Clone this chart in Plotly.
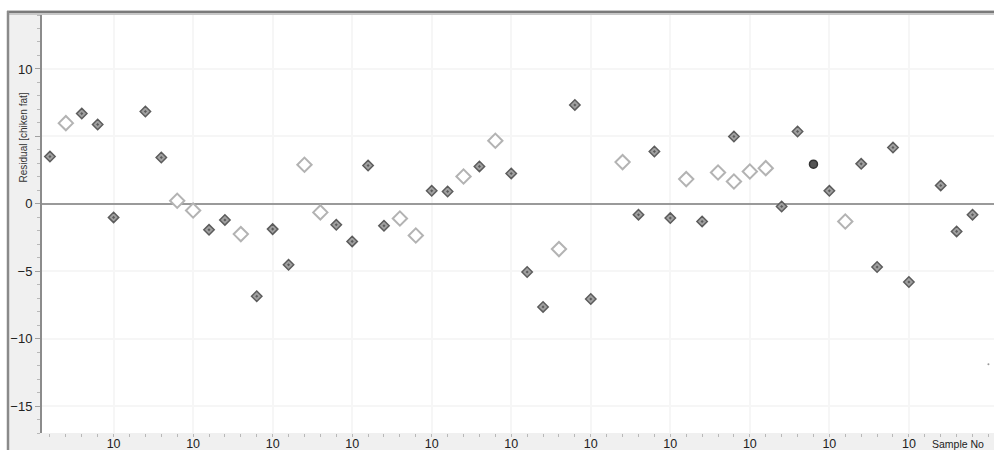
import plotly.graph_objects as go

# ---- data ----
filled_x = [1, 3, 4, 5, 7, 8, 11, 12, 14, 15, 16, 19, 20, 21, 22, 25, 26, 28, 30, 31, 32, 34, 35,
            38, 39, 40, 42, 44, 47, 48, 50, 52, 53, 54, 55, 57, 58, 59]
filled_y = [3.5, 6.69, 5.88, -1.01, 6.84, 3.43, -1.93, -1.2, -6.86, -1.88, -4.52, -1.56, -2.79, 2.84,
            -1.63, 0.96, 0.91, 2.77, 2.25, -5.06, -7.65, 7.33, -7.06,
            -0.81, 3.88, -1.06, -1.31, 4.99, -0.2, 5.36, 0.96, 2.96, -4.69, 4.17, -5.8, 1.36, -2.05, -0.81]
open_x = [2, 9, 10, 13, 17, 18, 23, 24, 27, 29, 33, 37, 41, 43, 44, 45, 46, 51]
open_y = [5.98, 0.22, -0.5, -2.25, 2.89, -0.64, -1.09, -2.35, 2.02, 4.67, -3.36, 3.09, 1.83, 2.32,
          1.65, 2.39, 2.64, -1.31]
dark_x = [49]
dark_y = [2.94]
speck_x = [60]
speck_y = [-11.9]

x_tick_vals = [5, 10, 15, 20, 25, 30, 35, 40, 45, 50, 55]
x_tick_text = ["10"] * len(x_tick_vals)
y_tick_vals = [-15, -10, -5, 0, 5, 10]
y_tick_text = ["\u221215", "\u221210", "\u22125", "0", "", "10"]

# ---- layout geometry (pixels) ----
W, H = 994, 450
L, R, T, B = 42, 0, 15, 17
PW, PH = W - L - R, H - T - B


def px(x):
    return (x - L) / PW


def py(y):
    return (H - B - y) / PH


fig = go.Figure()
fig.add_trace(go.Scatter(
    x=open_x, y=open_y, mode="markers",
    marker=dict(symbol="diamond", size=11, color="white",
                line=dict(color="#b3b3b3", width=2)),
    hoverinfo="x+y", showlegend=False))
fig.add_trace(go.Scatter(
    x=filled_x, y=filled_y, mode="markers",
    marker=dict(symbol="diamond-dot", size=8, color="#a0a0a0",
                line=dict(color="#5c5c5c", width=1.5)),
    hoverinfo="x+y", showlegend=False))
fig.add_trace(go.Scatter(
    x=dark_x, y=dark_y, mode="markers",
    marker=dict(symbol="circle", size=8, color="#555555",
                line=dict(color="#333333", width=1.5)),
    hoverinfo="x+y", showlegend=False))
fig.add_trace(go.Scatter(
    x=speck_x, y=speck_y, mode="markers",
    marker=dict(symbol="circle", size=2, color="#999999"),
    hoverinfo="x+y", showlegend=False))

shapes = [
    # white area outside the frame (left strip and top strip)
    dict(type="rect", xref="paper", yref="paper", x0=px(0), x1=px(8), y0=py(H), y1=py(0),
         fillcolor="white", line=dict(width=0), layer="below"),
    dict(type="rect", xref="paper", yref="paper", x0=px(0), x1=px(W), y0=py(11), y1=py(0),
         fillcolor="white", line=dict(width=0), layer="below"),
    # frame lines
    dict(type="line", xref="paper", yref="paper", x0=px(7), x1=px(W), y0=py(12.5), y1=py(12.5),
         line=dict(color="#c8c8c8", width=5)),
    dict(type="line", xref="paper", yref="paper", x0=px(7), x1=px(W), y0=py(12), y1=py(12),
         line=dict(color="#7a7a7a", width=2)),
    dict(type="line", xref="paper", yref="paper", x0=px(8), x1=px(8), y0=py(11), y1=py(H),
         line=dict(color="#8a8a8a", width=2.5)),
]

fig.update_layout(
    width=W, height=H, autosize=False,
    margin=dict(l=L, r=R, t=T, b=B, pad=0, autoexpand=False),
    paper_bgcolor="#f0f0f0", plot_bgcolor="white",
    font=dict(family="Liberation Sans, Arial, sans-serif", color="#222222"),
    shapes=shapes,
    xaxis=dict(range=[0.5, 60.35], tickmode="array", tickvals=x_tick_vals, ticktext=x_tick_text,
               tickfont=dict(size=12.5, color="#222222"), ticks="outside", ticklen=3,
               tickcolor="#b8b8b8", tickwidth=1, ticklabelstandoff=-4, automargin=False,
               showgrid=True, gridcolor="#f6f6f6", gridwidth=1.5, zeroline=False, showline=False,
               minor=dict(tickmode="linear", tick0=0, dtick=1, ticks="outside", ticklen=3,
                          tickcolor="#b8b8b8", showgrid=False),
               fixedrange=True),
    yaxis=dict(range=[-17, 14], tickmode="array", tickvals=y_tick_vals, ticktext=y_tick_text,
               tickfont=dict(size=13, color="#222222"), ticks="outside", ticklen=5,
               tickcolor="#a0a0a0", tickwidth=1, automargin=False,
               showgrid=True, gridcolor="#f6f6f6", gridwidth=1.5,
               zeroline=True, zerolinecolor="#9a9a9a", zerolinewidth=2,
               showline=True, linecolor="#8c8c8c", linewidth=2,
               minor=dict(tickmode="linear", tick0=0, dtick=1, ticks="outside", ticklen=3,
                          tickcolor="#b8b8b8", showgrid=False),
               fixedrange=True),
    annotations=[
        dict(text="Residual [chiken fat]", xref="paper", yref="paper", x=px(23), y=py(137.5),
             textangle=-90, showarrow=False, font=dict(size=10, color="#333333"),
             xanchor="center", yanchor="middle"),
        dict(text="Sample No", xref="paper", yref="paper", x=px(958), y=py(444),
             showarrow=False, font=dict(size=10.5, color="#222222"),
             xanchor="center", yanchor="middle"),
    ],
)

fig.write_html("out.html", config=dict(displayModeBar=False))
